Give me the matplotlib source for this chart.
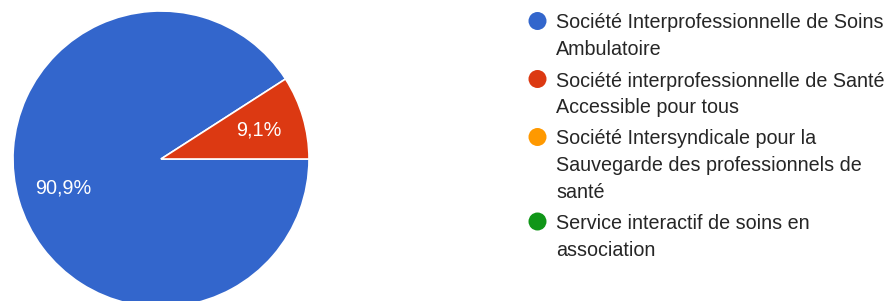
import matplotlib.pyplot as plt
from matplotlib.patches import Circle

plt.rcParams["font.family"] = ["Liberation Sans", "DejaVu Sans"]

labels = [
    "Société Interprofessionnelle de Soins\nAmbulatoire",
    "Société interprofessionnelle de Santé\nAccessible pour tous",
    "Société Intersyndicale pour la\nSauvegarde des professionnels de\nsanté",
    "Service interactif de soins en\nassociation",
]
counts = [10, 1, 0, 0]
colors = ["#3366cc", "#dc3912", "#ff9900", "#109618"]

W, H = 891, 301
fig = plt.figure(figsize=(W / 100, H / 100), dpi=100)

# pie: centre (161, 159) px, radius 148 px
cx, cy, r = 161, 159, 148
ax = fig.add_axes([(cx - r) / W, 1 - (cy + r) / H, 2 * r / W, 2 * r / H])
nz = [(c, col) for c, col in zip(counts, colors) if c > 0]
ax.pie([c for c, _ in nz], colors=[col for _, col in nz], startangle=0,
       counterclock=False, radius=1,
       autopct=lambda p: f"{p:.1f}%".replace(".", ","), pctdistance=0.69,
       wedgeprops=dict(edgecolor="white", linewidth=1.2),
       textprops=dict(color="white", fontsize=14.3))
ax.set_xlim(-1, 1)
ax.set_ylim(-1, 1)
ax.set_aspect("equal")
ax.axis("off")

# legend
y = 21
for lab, col in zip(labels, colors):
    fig.patches.append(Circle((537.5, H - y), 9, transform=None,
                              facecolor=col, edgecolor="none"))
    for k, line in enumerate(lab.split("\n")):
        fig.text(556 / W, 1 - (y + 26.5 * k) / H, line, ha="left",
                 va="center_baseline", fontsize=14.2, color="#262626")
    nlines = lab.count("\n") + 1
    y += 26.5 * (nlines - 1) + 31.5

fig.savefig("out.png", dpi=100)
